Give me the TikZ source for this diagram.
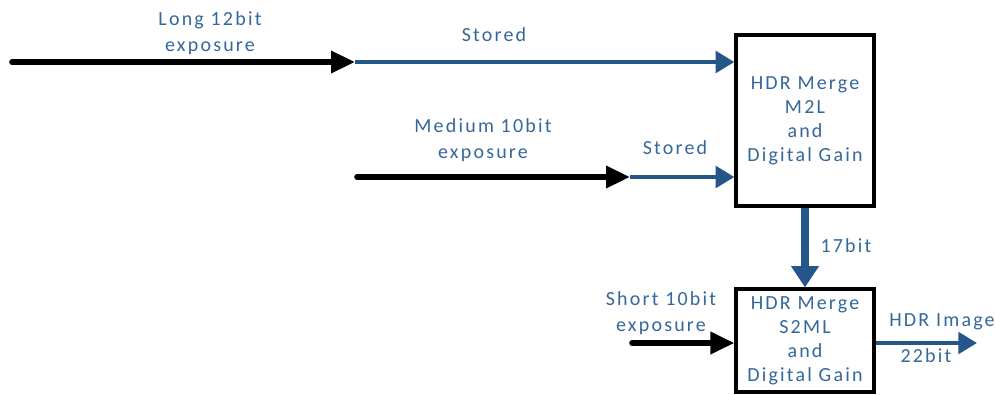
\documentclass[tikz,border=0pt]{standalone}
\usepackage{fontspec}
\setmainfont[LetterSpace=11]{Carlito}
\usetikzlibrary{arrows.meta}
\definecolor{flowblue}{HTML}{25568A}
\definecolor{labelblue}{HTML}{35679A}
\tikzset{
  lbl/.style={text=labelblue, font=\fontsize{15}{19.5}\selectfont, align=center, inner sep=0pt},
  mergebox/.style={draw=black, line width=2.4pt, fill=white, text=labelblue,
    font=\fontsize{15}{18}\selectfont, align=center, minimum width=103.5pt, inner sep=0pt},
  inarrow/.style={draw=black, line width=4.2pt, line cap=round,
    -{Triangle[length=18pt, width=16pt]}},
  bluearrow/.style={draw=flowblue, line width=3.2pt,
    -{Triangle[length=14pt, width=16pt]}},
  bigarrow/.style={draw=flowblue, line width=5.5pt,
    -{Triangle[length=16pt, width=20pt]}}
}
\begin{document}
\begin{tikzpicture}[x=0.75pt, y=-0.75pt]
  \useasboundingbox (0,0) rectangle (996,394);

  % merge stages
  \node[mergebox, minimum height=128.25pt] (m2l) at (805,120.5)
    {HDR Merge\\M2L\\and\\Digital Gain};
  \node[mergebox, minimum height=77.25pt] (s2ml) at (805,340.5)
    {HDR Merge\\S2ML\\and\\Digital Gain};

  % long exposure path
  \coordinate (longin) at (12,62);
  \coordinate (longstore) at (355,62);
  \draw[inarrow] (longin) -- (longstore);
  \draw[bluearrow] (longstore) -- (m2l.west |- longstore);
  \node[lbl] (longlbl) at (210,33) {Long 12bit\\exposure};
  \node[lbl] (stored1) at (494,35) {Stored};

  % medium exposure path
  \coordinate (medin) at (357,177);
  \coordinate (medstore) at (630,177);
  \draw[inarrow] (medin) -- (medstore);
  \draw[bluearrow] (medstore) -- (m2l.west |- medstore);
  \node[lbl] (medlbl) at (483,140) {Medium 10bit\\exposure};
  \node[lbl] (stored2) at (675,148) {Stored};

  % merged 17bit into second stage
  \draw[bigarrow] (m2l.south) -- (s2ml.north);
  \node[lbl] (bits17) at (846,246) {17bit};

  % short exposure path
  \coordinate (shortin) at (632,343);
  \draw[inarrow] (shortin) -- (s2ml.west |- shortin);
  \node[lbl] (shortlbl) at (661,313) {Short 10bit\\exposure};

  % output
  \coordinate (hdrout) at (977,343);
  \draw[bluearrow] (s2ml.east |- hdrout) -- (hdrout);
  \node[lbl] (outlbl) at (942,322) {HDR Image};
  \node[lbl] (bits22) at (926,356) {22bit};
\end{tikzpicture}
\end{document}
